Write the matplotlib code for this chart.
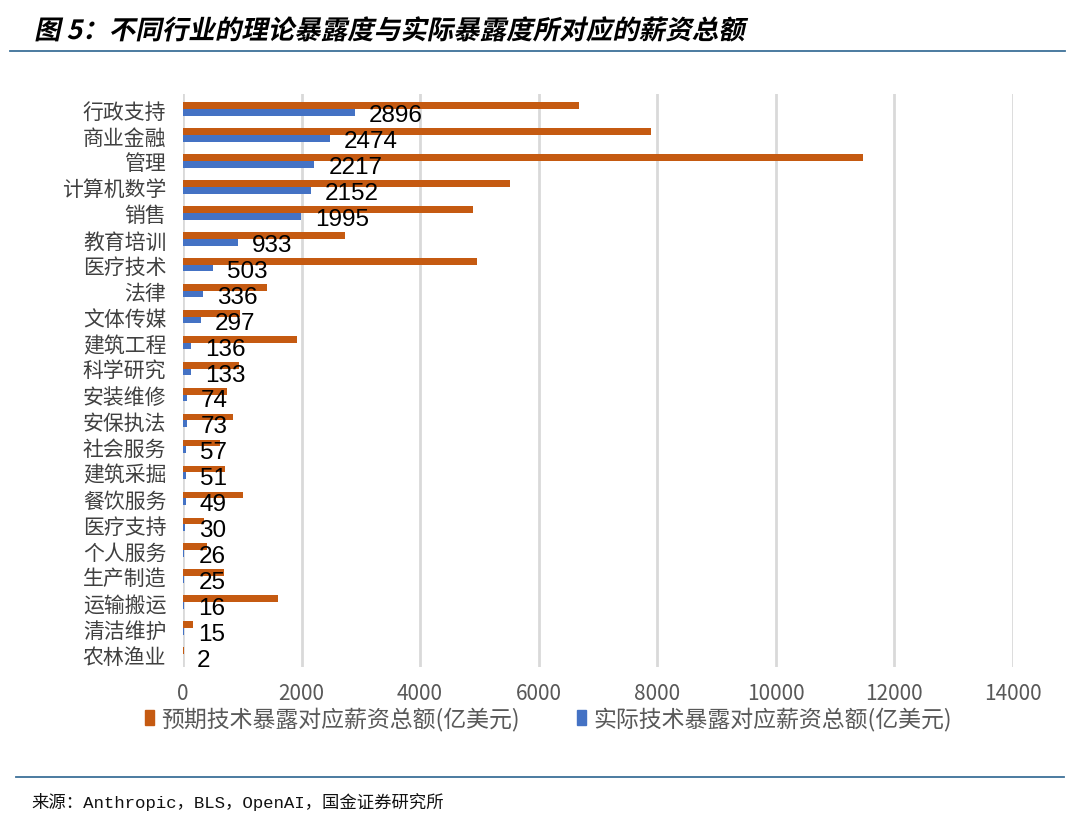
import matplotlib
matplotlib.use("Agg")
import matplotlib.pyplot as plt
import matplotlib.transforms as mtransforms
from matplotlib.lines import Line2D
from matplotlib.patches import Patch, PathPatch
from matplotlib.textpath import TextPath
from matplotlib.font_manager import FontProperties
import numpy as np

plt.rcParams['font.family'] = ['Noto Sans CJK SC', 'DejaVu Sans']

# data
industries = ["行政支持", "商业金融", "管理", "计算机数学", "销售", "教育培训", "医疗技术",
              "法律", "文体传媒", "建筑工程", "科学研究", "安装维修", "安保执法", "社会服务",
              "建筑采掘", "餐饮服务", "医疗支持", "个人服务", "生产制造", "运输搬运",
              "清洁维护", "农林渔业"]
expected = [6680, 7890, 11470, 5510, 4890, 2730, 4960,
            1410, 960, 1920, 950, 740, 840, 620,
            710, 1010, 350, 400, 690, 1600,
            170, 20]
actual = [2896, 2474, 2217, 2152, 1995, 933, 503,
          336, 297, 136, 133, 74, 73, 57,
          51, 49, 30, 26, 25, 16,
          15, 2]
xticks = [0, 2000, 4000, 6000, 8000, 10000, 12000, 14000]

orange = "#C55A11"
blue = "#4472C4"

fig = plt.figure(figsize=(10.8, 8.28), dpi=100)
ax = fig.add_axes([0.1694, 0.1932, 0.7685, 0.6921])

y = np.arange(len(industries))
h = 0.26
ax.barh(y - h / 2, expected, height=h, color=orange, zorder=3)
ax.barh(y + h / 2, actual, height=h, color=blue, zorder=3)

for yi, v in zip(y, actual):
    ax.annotate(str(v), xy=(v, yi + h / 2 + 0.1), xytext=(10, 0), textcoords="offset points",
                ha="left", va="center", fontsize=17.5, color="black",
                family=["Liberation Sans", "DejaVu Sans"], zorder=4)

ax.set_xlim(0, 14000)
ax.set_ylim(len(industries) - 0.5, -0.58)
ax.set_xticks(xticks)
ax.set_xticklabels([str(t) for t in xticks])
ax.set_yticks(y)
ax.set_yticklabels(industries)
ax.tick_params(axis="y", length=0, pad=12, labelsize=15, labelcolor="#404040")
ax.tick_params(axis="x", length=0, pad=11, labelsize=15, labelcolor="#595959")
for s in ax.spines.values():
    s.set_visible(False)
ax.grid(axis="x", color="#D9D9D9", linewidth=2, zorder=0)

handles = [Patch(color=orange), Patch(color=blue)]
labels = ["预期技术暴露对应薪资总额(亿美元)", "实际技术暴露对应薪资总额(亿美元)"]
fig.legend(handles, labels, loc="center", bbox_to_anchor=(0.508, 0.131), ncol=2,
           frameon=False, fontsize=16.5, handlelength=0.4, handleheight=0.6,
           handletextpad=0.3, columnspacing=2.5, labelcolor="#595959")

# title, slanted like the italic original
title = "图 5：不同行业的理论暴露度与实际暴露度所对应的薪资总额"
tp = TextPath((0, 0), title, size=26.5,
              prop=FontProperties(family="Noto Sans CJK SC", weight="bold"))
tr = (mtransforms.Affine2D().skew_deg(12, 0).translate(34, 828 - 40)
      .scale(1 / 1080, 1 / 828) + fig.transFigure)
fig.add_artist(PathPatch(tp, transform=tr, color="black", lw=0))

fig.add_artist(Line2D([0.009, 0.986], [0.937, 0.937], color="#3D7198", linewidth=1.3))
fig.add_artist(Line2D([0.015, 0.985], [0.06, 0.06], color="#3D7198", linewidth=1.3))
fig.text(0.029, 0.031, "来源：Anthropic，BLS，OpenAI，国金证券研究所", fontsize=12.5,
         family=["Liberation Mono", "Noto Sans CJK SC"],
         ha="left", va="center", color="#111111")

fig.savefig("out.png", dpi=100)
